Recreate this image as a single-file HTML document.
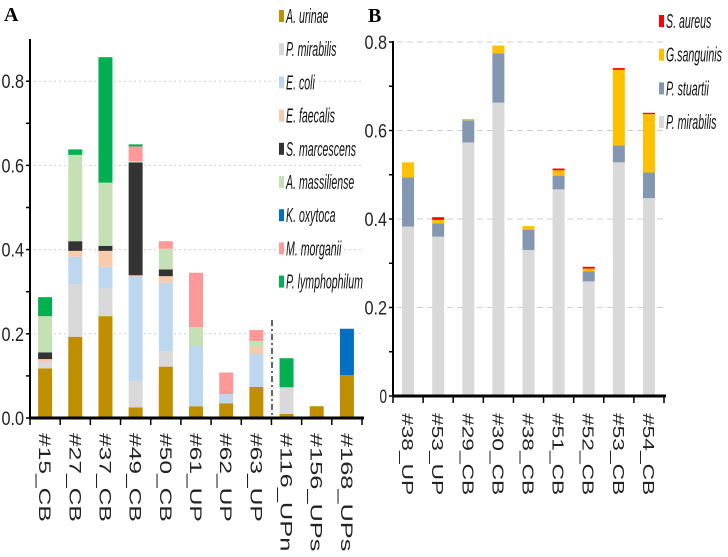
<!DOCTYPE html>
<html><head><meta charset="utf-8"><style>
html,body{margin:0;padding:0;background:#fff;}
svg{display:block;font-family:"Liberation Sans",sans-serif;}
</style></head><body>
<svg id="chart" width="728" height="557" viewBox="0 0 728 557"></svg>
<script>
// ---- Panel A data ----
const catsA = ["#15_CB","#27_CB","#37_CB","#49_CB","#50_CB","#61_UP","#62_UP","#63_UP","#116_UPn","#156_UPs","#168_UPs"];
const speciesA = ["A. urinae","P. mirabilis","E. coli","E. faecalis","S. marcescens","A. massiliense","K. oxytoca","M. morganii","P. lymphophilum"];
const aUrinae   = [0.118,0.193,0.242,0.025,0.122,0.028,0.035,0.074,0.010,0.028,0.102];
const pMirA     = [0.015,0.125,0.066,0.063,0.037,0,0,0,0.063,0,0];
const eColi     = [0,0.065,0.051,0.248,0.162,0.143,0.022,0.079,0,0,0];
const eFaecalis = [0.007,0.014,0.038,0.003,0.016,0,0,0.016,0,0,0];
const sMarc     = [0.016,0.023,0.012,0.268,0.016,0,0,0,0,0,0];
const aMass     = [0.086,0.205,0.150,0.003,0.049,0.045,0,0.014,0,0,0];
const kOxy      = [0,0,0,0,0,0,0,0,0,0,0.110];
const mMorg     = [0,0,0,0.035,0.018,0.129,0.051,0.026,0,0,0];
const pLymph    = [0.045,0.013,0.298,0.005,0,0,0,0,0.069,0,0];
const yTicksA = ["0.0","0.2","0.4","0.6","0.8"];
// ---- Panel B data ----
const catsB = ["#38_UP","#53_UP","#29_CB","#30_CB","#38_CB","#51_CB","#52_CB","#53_CB","#54_CB"];
const speciesB = ["S. aureus","G.sanguinis","P. stuartii","P. mirabilis"];
const pMirB   = [0.383,0.360,0.573,0.663,0.330,0.467,0.259,0.528,0.447];
const pStu    = [0.111,0.030,0.050,0.111,0.046,0.031,0.023,0.038,0.058];
const gSang   = [0.034,0.008,0.003,0.018,0.008,0.012,0.006,0.171,0.132];
const sAureus = [0,0.006,0,0,0,0.004,0.004,0.004,0.003];
const yTicksB = ["0","0.2","0.4","0.6","0.8"];

const NS="http://www.w3.org/2000/svg";
const svg=document.getElementById('chart');
function mk(tag,attrs,parent){const e=document.createElementNS(NS,tag);for(const k in attrs)e.setAttribute(k,attrs[k]);(parent||svg).appendChild(e);return e;}

const colsA=["#BF8F00","#D9D9D9","#BDD7EE","#F8CBAD","#333333","#C5E0B4","#0070C0","#FF9999","#00B050"];
const seriesA=[aUrinae,pMirA,eColi,eFaecalis,sMarc,aMass,kOxy,mMorg,pLymph];
const colsB=["#FF0000","#FFC000","#8497B0","#D9D9D9"];
const seriesB=[pMirB,pStu,gSang,sAureus]; // bottom to top
const colsBStack=["#D9D9D9","#8497B0","#FFC000","#FF0000"];

function panel(o){
  const g=mk('g',{});
  
  
  const y=v=>o.y0-v*o.ppu;
  const bw=(o.x1-o.x0)/o.cats.length;
  [0.2,0.4,0.6,0.8].forEach(v=>{
    const l=mk('line',{x1:o.x0+4,x2:o.x1,y1:y(v),y2:y(v),stroke:"#cfcfcf","stroke-width":1,"stroke-dasharray":o.dash},g);
    
    
  });
  o.cats.forEach((c,i)=>{
    let acc=0;
    const cx=o.x0+bw*(i+0.5);
    o.series.forEach((s,k)=>{
      const v=s[i]; if(!v) return;
      const r=mk('rect',{x:cx-o.barW/2,y:y(acc+v),width:o.barW,height:v*o.ppu,fill:o.cols[k]},g);
      
      
      acc+=v;
    });
    const t=mk('text',{x:0,y:0,"font-size":o.lfs,fill:"#222",transform:`translate(${cx-6},${o.y0+o.lOff}) rotate(90)`,textLength:o.lLen(c),lengthAdjust:"spacingAndGlyphs"},g);
    t.textContent=c;
    
    
    mk('line',{x1:o.x0+bw*(i+1),x2:o.x0+bw*(i+1),y1:o.y0,y2:o.y0+7,stroke:"#000","stroke-width":1.5},g);
  });
  mk('line',{x1:o.x0,x2:o.x0,y1:o.y0+7,y2:o.y0,stroke:"#000","stroke-width":1.5},g);
  const ya=mk('line',{x1:o.x0,x2:o.x0,y1:o.ytop,y2:o.y0,stroke:"#000","stroke-width":2},g);
  
  
  const xa=mk('line',{x1:o.x0,x2:o.x1+2,y1:o.y0,y2:o.y0,stroke:"#000","stroke-width":3},g);
  
  
  for(let v=0;v<=0.8001;v+=0.1){
    mk('line',{x1:o.x0-4,x2:o.x0,y1:y(v),y2:y(v),stroke:"#000","stroke-width":1.5},g);
  }
  o.yt.forEach((s,k)=>{
    const t=mk('text',{x:o.x0-6,y:y(k*0.2)+7,"font-size":19,"text-anchor":"end",fill:"#222",textLength:s.length*7.5,lengthAdjust:"spacingAndGlyphs"},g);
    t.textContent=s;
    
    
  });
  return {g,y,bw};
}

const A=panel({name:'panel-a',cats:catsA,series:seriesA,cols:colsA,x0:30,x1:362,y0:418,ytop:39,ppu:421,barW:14,dash:"2,3",lfs:17,lOff:15,lLen:c=>c.length*14.8,yt:yTicksA});
const dl=mk('line',{x1:272,x2:272,y1:320,y2:418,stroke:"#333","stroke-width":1.5,"stroke-dasharray":"6,3,2,3"},A.g);


const B=panel({name:'panel-b',cats:catsB,series:seriesB,cols:colsBStack,x0:393,x1:664,y0:396,ytop:41,ppu:442.5,barW:12,dash:"6,4",lfs:16,lOff:17,lLen:c=>c.length*13.7,yt:yTicksB});

function legend(names,cols,x,y0,dy,name){
  const g=mk('g',{});
  
  
  names.forEach((n,i)=>{
    const cy=y0+dy*i;
    const e=mk('g',{},g);
    
    
    mk('rect',{x:x,y:cy-6,width:5,height:12,fill:cols[i]},e);
    const t=mk('text',{x:0,y:0,"font-size":20,"font-style":"italic",fill:"#111",transform:`translate(${x+7},${cy+7}) scale(0.53,1)`},e);
    t.textContent=n;
  });
}
legend(speciesA,colsA,279,16,33.2,'legend-a');
legend(speciesB,colsB,659,21,33.7,'legend-b');

const la=mk('text',{x:4,y:21,"font-size":20,"font-weight":"bold","font-family":"Liberation Serif, serif"});
la.textContent="A";


const lb=mk('text',{x:368,y:22,"font-size":20,"font-weight":"bold","font-family":"Liberation Serif, serif"});
lb.textContent="B";


</script>
</body></html>
